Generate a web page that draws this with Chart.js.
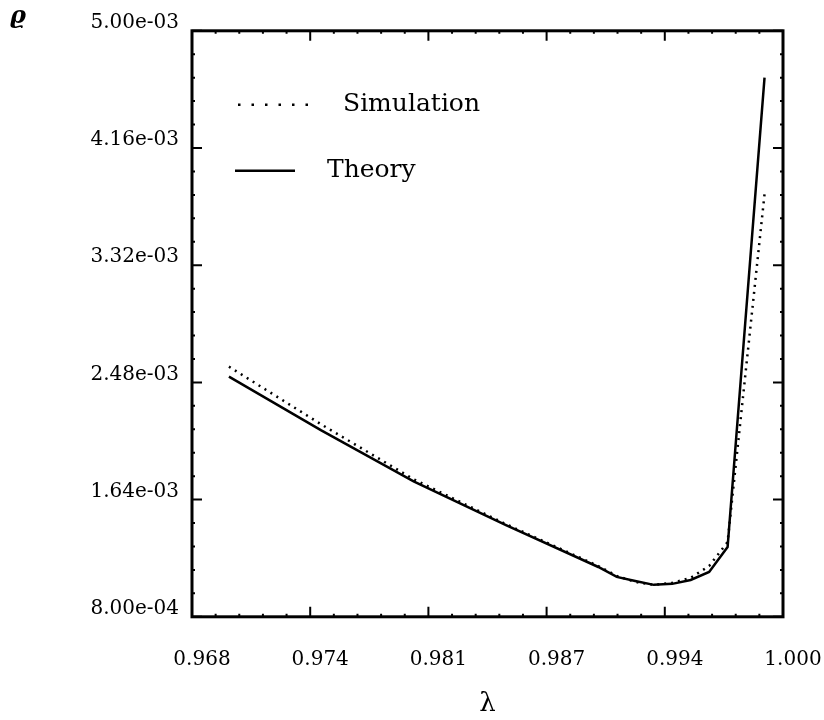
<!DOCTYPE html>
<html>
<head>
<meta charset="utf-8">
<title>rho vs lambda</title>
<script src="https://cdn.jsdelivr.net/npm/chart.js@4.4.0/dist/chart.umd.min.js"></script>
<style>
  html, body { margin: 0; padding: 0; background: #fff; }
  #wrap { width: 824px; height: 720px; }
</style>
</head>
<body>
<div id="wrap"><canvas id="myChart" width="824" height="720"></canvas></div>
<script>
// lambda values
const lambdas = [0.970, 0.975, 0.980, 0.985, 0.990, 0.991, 0.992, 0.993, 0.994, 0.995, 0.996, 0.997, 0.999];
// rho, simulation (dotted)
const simulation = [0.002593, 0.002179, 0.001786, 0.001464, 0.001164, 0.001093, 0.001050, 0.001029, 0.001043, 0.001079, 0.001164, 0.001336, 0.003829];
// rho, theory (solid)
const theory = [0.002521, 0.002136, 0.001771, 0.001457, 0.001157, 0.001086, 0.001057, 0.001029, 0.001036, 0.001064, 0.001121, 0.001300, 0.004664];

const xTicks = [0.968, 0.9744, 0.9808, 0.9872, 0.9936, 1.000];
const xTickLabels = ["0.968", "0.974", "0.981", "0.987", "0.994", "1.000"];
const yTicks = [0.0008, 0.00164, 0.00248, 0.00332, 0.00416, 0.005];
const yTickLabels = ["8.00e-04", "1.64e-03", "2.48e-03", "3.32e-03", "4.16e-03", "5.00e-03"];

const serif = "'DejaVu Serif', serif";

// box round the plot plus inward tick marks (major + 4 minor between)
const framePlugin = {
  id: "frame",
  afterDatasetsDraw(chart) {
    const { ctx, chartArea: a, scales } = chart;
    const x = scales.x, y = scales.y;
    ctx.save();
    ctx.strokeStyle = "#000";
    ctx.lineWidth = 3;
    ctx.strokeRect(a.left, a.top, a.right - a.left, a.bottom - a.top);
    ctx.lineWidth = 2;
    ctx.beginPath();
    xTicks.forEach((v, i) => {
      const px = x.getPixelForValue(v);
      ctx.moveTo(px, a.bottom); ctx.lineTo(px, a.bottom - 10);
      ctx.moveTo(px, a.top); ctx.lineTo(px, a.top + 10);
      if (i < xTicks.length - 1) {
        const step = (xTicks[i + 1] - v) / 5;
        for (let k = 1; k < 5; k++) {
          const mx = x.getPixelForValue(v + k * step);
          ctx.moveTo(mx, a.bottom); ctx.lineTo(mx, a.bottom - 3);
          ctx.moveTo(mx, a.top); ctx.lineTo(mx, a.top + 3);
        }
      }
    });
    yTicks.forEach((v, i) => {
      const py = y.getPixelForValue(v);
      ctx.moveTo(a.left, py); ctx.lineTo(a.left + 10, py);
      ctx.moveTo(a.right, py); ctx.lineTo(a.right - 10, py);
      if (i < yTicks.length - 1) {
        const step = (yTicks[i + 1] - v) / 5;
        for (let k = 1; k < 5; k++) {
          const my = y.getPixelForValue(v + k * step);
          ctx.moveTo(a.left, my); ctx.lineTo(a.left + 3, my);
          ctx.moveTo(a.right, my); ctx.lineTo(a.right - 3, my);
        }
      }
    });
    ctx.stroke();
    ctx.restore();
  }
};

// legend sitting inside the upper-left of the plot
const legendPlugin = {
  id: "insideLegend",
  afterDatasetsDraw(chart) {
    const { ctx, chartArea: a } = chart;
    const rows = [
      { ds: chart.data.datasets[0], x0: 46, x1: 116, tx: 151, dy: 74, dash: [2.5, 11] },
      { ds: chart.data.datasets[1], x0: 43, x1: 103, tx: 135, dy: 140, dash: [] }
    ];
    ctx.save();
    ctx.font = "25px " + serif;
    ctx.fillStyle = "#000";
    ctx.textBaseline = "middle";
    rows.forEach((r) => {
      ctx.strokeStyle = r.ds.borderColor;
      ctx.lineWidth = r.ds.borderWidth;
      ctx.setLineDash(r.dash);
      ctx.beginPath();
      ctx.moveTo(a.left + r.x0, a.top + r.dy);
      ctx.lineTo(a.left + r.x1, a.top + r.dy);
      ctx.stroke();
      ctx.fillText(r.ds.label, a.left + r.tx, a.top + r.dy);
    });
    ctx.restore();
  }
};

const ctx = document.getElementById("myChart").getContext("2d");
const myChart = new Chart(ctx, {
  type: "line",
  data: {
    datasets: [
      {
        label: "Simulation",
        data: lambdas.map((l, i) => ({ x: l, y: simulation[i] })),
        borderColor: "#000",
        borderWidth: 2.5,
        borderDash: [2, 5],
        pointRadius: 0,
        tension: 0,
        fill: false,
      },
      {
        label: "Theory",
        data: lambdas.map((l, i) => ({ x: l, y: theory[i] })),
        borderColor: "#000",
        borderWidth: 2.5,
        pointRadius: 0,
        tension: 0,
        fill: false,
      },
    ],
  },
  options: {
    responsive: false,
    animation: false,
    layout: { padding: { left: 10, right: 41, top: 0, bottom: 0 } },
    plugins: {
      legend: { display: false },
      tooltip: { enabled: false },
      title: {
        display: true,
        text: "ϱ",
        align: "start",
        color: "#000",
        font: { family: serif, size: 24, style: "italic", weight: "bold" },
        padding: { top: 2, bottom: 0 },
      },
    },
    scales: {
      x: {
        type: "linear",
        min: 0.968,
        max: 1.0,
        afterBuildTicks: (scale) => { scale.ticks = xTicks.map((v) => ({ value: v })); },
        // invisible outer tick marks only used as spacing before the labels
        grid: { display: true, color: "rgba(0,0,0,0)", drawOnChartArea: false, drawTicks: true, tickLength: 26 },
        border: { display: false },
        ticks: {
          color: "#000",
          font: { family: serif, size: 20 },
          padding: 5,
          labelOffset: 10,
          maxRotation: 0,
          autoSkip: false,
          callback: (v, i) => xTickLabels[i],
        },
        title: {
          display: true,
          text: "λ",
          color: "#000",
          font: { family: serif, size: 26 },
          padding: { top: 12, bottom: 0 },
        },
      },
      y: {
        type: "linear",
        min: 0.0008,
        max: 0.005,
        afterBuildTicks: (scale) => { scale.ticks = yTicks.map((v) => ({ value: v })); },
        afterFit: (scale) => { scale.width = 182; },
        grid: { display: false },
        border: { display: false },
        ticks: {
          color: "#000",
          font: { family: serif, size: 20 },
          padding: 5,
          labelOffset: -8,
          autoSkip: false,
          callback: (v, i) => yTickLabels[i],
        },
      },
    },
  },
  plugins: [framePlugin, legendPlugin],
});
</script>
</body>
</html>
